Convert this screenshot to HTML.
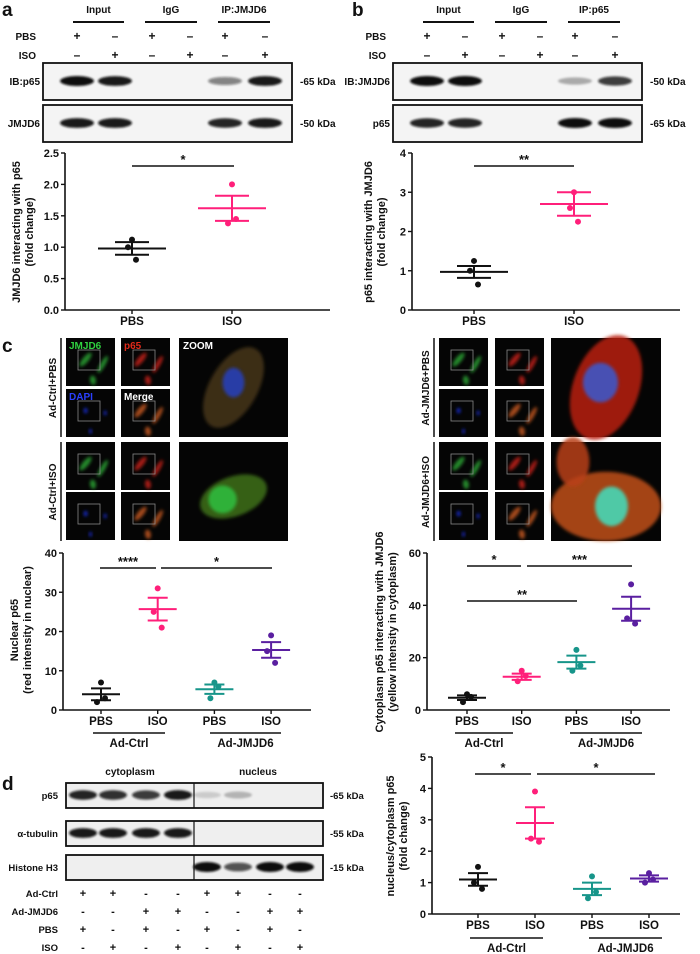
<!DOCTYPE html>
<html><head><meta charset="utf-8">
<style>
html,body{margin:0;padding:0;background:#fff;}
svg{display:block;font-family:"Liberation Sans",Arial,sans-serif;font-weight:bold;}
</style></head>
<body>
<svg id="fig" width="700" height="954" viewBox="0 0 700 954" xmlns="http://www.w3.org/2000/svg">
<defs>
<filter id="bl" x="-50%" y="-50%" width="200%" height="200%"><feGaussianBlur stdDeviation="1.5"/></filter>
<filter id="bl1" x="-50%" y="-50%" width="200%" height="200%"><feGaussianBlur stdDeviation="1"/></filter>
</defs>
<g id="root"></g>
</svg>
<script>
// ---------- chart data ----------
const catsA = ["PBS","ISO"];
const ptsA = [[1.12,1.0,0.8],[2.0,1.38,1.45]];
const meanA = [0.98,1.62];
const semA = [0.1,0.2];
const ticksA = [0,0.5,1.0,1.5,2.0,2.5];

const catsB = ["PBS","ISO"];
const ptsB = [[1.25,1.0,0.65],[3.0,2.6,2.25]];
const meanB = [0.97,2.7];
const semB = [0.15,0.3];
const ticksB = [0,1,2,3,4];

const catsC = ["PBS","ISO","PBS","ISO"];
const ptsC1 = [[7,2,3],[31,25,21],[7,3,6],[19,15,12]];
const meanC1 = [4,25.7,5.3,15.3];
const semC1 = [1.5,2.9,1.2,2.0];
const ticksC1 = [0,10,20,30,40];

const ptsC2 = [[6,3,5],[15,11,13],[23,15,17],[48,35,33]];
const meanC2 = [4.7,12.7,18.3,38.7];
const semC2 = [0.9,1.2,2.5,4.6];
const ticksC2 = [0,20,40,60];

const ptsD = [[1.5,1.0,0.8],[3.9,2.4,2.3],[1.2,0.5,0.7],[1.3,1.0,1.1]];
const meanD = [1.1,2.9,0.8,1.13];
const semD = [0.2,0.5,0.2,0.1];
const ticksD = [0,1,2,3,4,5];

const COLORS2 = ["#111111","#ff1f7a"];
const COLORS4 = ["#111111","#ff1f7a","#17958a","#5a1fa0"];

const NS = "http://www.w3.org/2000/svg";
const root = document.getElementById('root');
function el(tag, attrs, parent, text){
  const e = document.createElementNS(NS, tag);
  for (const k in attrs) e.setAttribute(k, attrs[k]);
  if (text !== undefined) e.textContent = text;
  (parent||root).appendChild(e);
  return e;
}
function txt(x,y,s,size,anchor,parent,fill){
  return el('text',{x:x,y:y,'font-size':size||11,'text-anchor':anchor||'middle',fill:fill||'#111'},parent,s);
}

function dotPlot(cfg){
  const g = el('g',{});
  
  
  const ymin = cfg.ticks[0], ymax = cfg.ticks[cfg.ticks.length-1];
  const yS = v => cfg.y0 - (v - ymin)/(ymax - ymin)*(cfg.y0 - cfg.yTop);
  const xS = i => cfg.xs0 + i*cfg.dx;
  el('line',{x1:cfg.ax,y1:cfg.yTop,x2:cfg.ax,y2:cfg.y0,stroke:'#111','stroke-width':1.6},g);
  el('line',{x1:cfg.ax,y1:cfg.y0,x2:cfg.axEnd,y2:cfg.y0,stroke:'#111','stroke-width':1.6},g);
  cfg.ticks.forEach(t=>{
    const y = yS(t);
    el('line',{x1:cfg.ax-4,y1:y,x2:cfg.ax,y2:y,stroke:'#111','stroke-width':1.4},g);
    const lab = txt(cfg.ax-6,y+4,String(cfg.tickFmt?cfg.tickFmt(t):t),11,'end',g);
    
    
  });
  cfg.cats.forEach((c,i)=>{
    const x = xS(i);
    el('line',{x1:x,y1:cfg.y0,x2:x,y2:cfg.y0+4,stroke:'#111','stroke-width':1.4},g);
    const lab = txt(x,cfg.y0+15,c,11.5,'middle',g);
    
    
    const col = cfg.colors[i];
    const m = cfg.mean[i], s = cfg.sem[i];
    const sg = el('g',{},g);
    
    
    el('line',{x1:x-cfg.mw,y1:yS(m),x2:x+cfg.mw,y2:yS(m),stroke:col,'stroke-width':2},sg);
    el('line',{x1:x-cfg.ew,y1:yS(m+s),x2:x+cfg.ew,y2:yS(m+s),stroke:col,'stroke-width':2},sg);
    el('line',{x1:x-cfg.ew,y1:yS(m-s),x2:x+cfg.ew,y2:yS(m-s),stroke:col,'stroke-width':2},sg);
    el('line',{x1:x,y1:yS(m+s),x2:x,y2:yS(m-s),stroke:col,'stroke-width':2},sg);
    const offs=[0,-5,5];
    cfg.pts[i].forEach((v,k)=>{
      const dot = el('circle',{cx:x+offs[k]*0.8,cy:yS(v),r:3,fill:col},sg);
      
      
    });
  });
  (cfg.sig||[]).forEach(s=>{
    const sgg = el('g',{},g);
    
    
    el('line',{x1:s.x1,y1:s.y,x2:s.x2,y2:s.y,stroke:'#111','stroke-width':1.4},sgg);
    txt((s.x1+s.x2)/2,s.y-2,s.t,13,'middle',sgg);
  });
  (cfg.groups||[]).forEach(gr=>{
    const gg = el('g',{},g);
    
    
    el('line',{x1:gr.x1,y1:gr.y,x2:gr.x2,y2:gr.y,stroke:'#111','stroke-width':1.4},gg);
    txt((gr.x1+gr.x2)/2,gr.y+14,gr.t,11.5,'middle',gg);
  });
  const tg = el('g',{transform:`translate(${cfg.titleX},${cfg.titleY}) rotate(-90)`},g);
  
  
  txt(0,0,cfg.title1,11,'middle',tg);
  txt(0,13,cfg.title2,11,'middle',tg);
}

dotPlot({name:'chart-a',cats:catsA,pts:ptsA,mean:meanA,sem:semA,ticks:ticksA,tickFmt:t=>t.toFixed(1),
  ax:65,axEnd:330,y0:310,yTop:153,xs0:132,dx:100,mw:34,ew:17,colors:COLORS2,
  sig:[{x1:132,x2:234,y:166,t:'*'}],
  title1:'JMJD6 interacting with p65',title2:'(fold change)',titleX:20,titleY:232});
dotPlot({name:'chart-b',cats:catsB,pts:ptsB,mean:meanB,sem:semB,ticks:ticksB,
  ax:412,axEnd:680,y0:310,yTop:153,xs0:474,dx:100,mw:34,ew:17,colors:COLORS2,
  sig:[{x1:474,x2:574,y:166,t:'**'}],
  title1:'p65 interacting with JMJD6',title2:'(fold change)',titleX:372,titleY:232});
dotPlot({name:'chart-c-nuclear',cats:catsC,pts:ptsC1,mean:meanC1,sem:semC1,ticks:ticksC1,
  ax:63,axEnd:311,y0:710,yTop:553,xs0:101,dx:56.7,mw:19,ew:10,colors:COLORS4,
  sig:[{x1:100,x2:156,y:568,t:'****'},{x1:161,x2:272,y:568,t:'*'}],
  groups:[{x1:93,x2:165,y:733,t:'Ad-Ctrl'},{x1:210,x2:281,y:733,t:'Ad-JMJD6'}],
  title1:'Nuclear p65',title2:'(red intensity in nuclear)',titleX:18,titleY:630});
dotPlot({name:'chart-c-cytoplasm',cats:catsC,pts:ptsC2,mean:meanC2,sem:semC2,ticks:ticksC2,
  ax:427,axEnd:670,y0:710,yTop:553,xs0:467,dx:54.7,mw:19,ew:10,colors:COLORS4,
  sig:[{x1:467,x2:521,y:566,t:'*'},{x1:527,x2:632,y:566,t:'***'},{x1:467,x2:577,y:601,t:'**'}],
  groups:[{x1:455,x2:513,y:733,t:'Ad-Ctrl'},{x1:570,x2:642,y:733,t:'Ad-JMJD6'}],
  title1:'Cytoplasm p65 interacting with JMJD6',title2:'(yellow intensity in cytoplasm)',titleX:383,titleY:632});
dotPlot({name:'chart-d',cats:catsC,pts:ptsD,mean:meanD,sem:semD,ticks:ticksD,
  ax:432,axEnd:680,y0:914,yTop:757,xs0:478,dx:57,mw:19,ew:10,colors:COLORS4,
  sig:[{x1:475,x2:531,y:774,t:'*'},{x1:537,x2:655,y:774,t:'*'}],
  groups:[{x1:470,x2:543,y:938,t:'Ad-Ctrl'},{x1:589,x2:662,y:938,t:'Ad-JMJD6'}],
  title1:'nucleus/cytoplasm p65',title2:'(fold change)',titleX:394,titleY:836});

[['a',2,16],['b',352,16],['c',2,352],['d',2,790]].forEach(p=>{
  const t = txt(p[1],p[2],p[0],19,'start');
  
  
});

function coIP(ox, ipLabel, row1, row2, kda1, kda2, bands1, bands2){
  const g = el('g',{});
  
  
  const lanes = [77,115,152,190,225,265].map(v=>v+ox);
  [['Input',73,124],['IgG',145,197],[ipLabel,218,270]].forEach(h=>{
    txt((h[1]+h[2])/2+ox,13,h[0],10,'middle',g);
    el('line',{x1:h[1]+ox,y1:22,x2:h[2]+ox,y2:22,stroke:'#111','stroke-width':2},g);
  });
  txt(ox+36,40,'PBS',10,'end',g); txt(ox+36,59,'ISO',10,'end',g);
  const pbs=['+','–','+','–','+','–'], iso=['–','+','–','+','–','+'];
  lanes.forEach((x,i)=>{txt(x,40,pbs[i],12,'middle',g);txt(x,59,iso[i],12,'middle',g);});
  [[63,row1,kda1,bands1],[105,row2,kda2,bands2]].forEach(r=>{
    el('rect',{x:43+ox,y:r[0],width:249,height:37,fill:'#f4f4f4',stroke:'#111','stroke-width':1.8},g);
    txt(ox+40,r[0]+22,r[1],10,'end',g);
    txt(ox+300,r[0]+22,r[2],10,'start',g);
    r[3].forEach((a,i)=>{ if(a>0) el('ellipse',{cx:lanes[i],cy:r[0]+18,rx:17,ry:3+a*2,fill:'#111','fill-opacity':a,filter:'url(#bl1)'},g);});
  });
}
coIP(0,'IP:JMJD6','IB:p65','JMJD6','-65 kDa','-50 kDa',[1,.95,0,0,.5,.95],[.95,.95,0,0,.9,.95]);
coIP(350,'IP:p65','IB:JMJD6','p65','-50 kDa','-65 kDa',[1,1,0,0,.3,.8],[.9,.9,0,0,1,1]);

function micro(x,y,w,h,blobs,name){
  const g = el('g',{});
  
  
  el('rect',{x:x,y:y,width:w,height:h,fill:'#050505'},g);
  blobs.forEach(b=>el('ellipse',{cx:x+b[0]*w,cy:y+b[1]*h,rx:b[2]*w,ry:b[3]*h,fill:b[4],'fill-opacity':b[6]||0.85,transform:`rotate(${b[5]||0} ${x+b[0]*w} ${y+b[1]*h})`,filter:'url(#bl)'},g));
  return g;
}
const G='#2aa032',R='#c01e14',B='#1b2ee0',O='#c0561e',C='#40e0c0';
const L1=[66,121], L2=179, R1=[439,495], R2=551;
const rowsY=[[338,389],[442,492]];
function cellSet(cols,zx,zw,ys,pal,zoomBlobs,lab){
  const [y1,y2]=ys;
  const cells=c=>[[.4,.45,.06,.18,c,40],[.75,.55,.05,.2,c,30],[.55,.88,.06,.1,c,-10]];
  micro(cols[0],y1,49,48,cells(pal[0]),'micrograph-jmjd6');
  micro(cols[1],y1,49,48,cells(pal[1]),'micrograph-p65');
  micro(cols[0],y2,49,48,[[.4,.45,.04,.06,B],[.8,.5,.03,.05,B],[.5,.88,.03,.05,B]],'micrograph-dapi');
  micro(cols[1],y2,49,48,cells(pal[2]),'micrograph-merge');
  micro(zx,y1,zw,99,zoomBlobs,'micrograph-zoom');
  [[cols[0],y1],[cols[1],y1],[cols[0],y2],[cols[1],y2]].forEach(p=>el('rect',{x:p[0]+12,y:p[1]+12,width:22,height:20,fill:'none',stroke:'#888','stroke-width':0.8}));
  const tg = el('g',{transform:`translate(${cols[0]-10},${y1+50}) rotate(-90)`});
  
  
  txt(0,0,lab,10,'middle',tg);
  el('line',{x1:cols[0]-5,y1:y1,x2:cols[0]-5,y2:y1+99,stroke:'#111','stroke-width':1.5});
}
cellSet(L1,L2,109,rowsY[0],[G,R,O],[[.5,.5,.22,.45,'#4a3a18',30,0.8],[.5,.45,.1,.15,'#2440c0']],'Ad-Ctrl+PBS');
cellSet(L1,L2,109,rowsY[1],[G,R,O],[[.5,.55,.32,.2,'#3a6a18',-20,0.9],[.4,.58,.13,.14,'#30c040']],'Ad-Ctrl+ISO');
cellSet(R1,R2,110,rowsY[0],[G,R,O],[[.5,.5,.3,.55,'#b82010',20],[.45,.45,.16,.2,'#3a5ad0']],'Ad-JMJD6+PBS');
cellSet(R1,R2,110,rowsY[1],[G,R,O],[[.5,.65,.5,.35,'#c0501a'],[.2,.2,.15,.25,'#b84018'],[.55,.65,.15,.2,C]],'Ad-JMJD6+ISO');
const lbls=[[L1[0]+3,349,'JMJD6','#30d040'],[L1[1]+3,349,'p65','#e02a1a'],[L1[0]+3,400,'DAPI','#2a40ff'],[L1[1]+3,400,'Merge','#fff'],[L2+4,349,'ZOOM','#fff']];
lbls.forEach(l=>{const t=txt(l[0],l[1],l[2],10,'start',null,l[3]);});

(function(){
  const g = el('g',{});
  
  
  txt(130,775,'cytoplasm',10,'middle',g); txt(258,775,'nucleus',10,'middle',g);
  const lanes=[83,113,146,178,207,238,270,300];
  const rows=[[783,'p65','-65 kDa',[.9,.85,.8,.95,.15,.25,0,0]],[821,'α-tubulin','-55 kDa',[.95,.95,.95,.95,0,0,0,0]],[855,'Histone H3','-15 kDa',[0,0,0,0,1,.7,1,1]]];
  rows.forEach(r=>{
    el('rect',{x:66,y:r[0],width:257,height:25,fill:'#efefef',stroke:'#111','stroke-width':1.8},g);
    el('line',{x1:194,y1:r[0],x2:194,y2:r[0]+25,stroke:'#111','stroke-width':1.2},g);
    txt(58,r[0]+16,r[1],9.5,'end',g);
    txt(330,r[0]+16,r[2],9.5,'start',g);
    r[3].forEach((a,i)=>{ if(a>0) el('ellipse',{cx:lanes[i],cy:r[0]+12,rx:14,ry:3+a*2,fill:'#111','fill-opacity':a,filter:'url(#bl1)'},g);});
  });
  const tbl=[['Ad-Ctrl',893,'++--++--'],['Ad-JMJD6',911,'--++--++'],['PBS',929,'+-+-+-+-'],['ISO',947,'-+-+-+-+']];
  tbl.forEach(t=>{
    txt(58,t[1]+4,t[0],9.5,'end',g);
    lanes.forEach((x,i)=>txt(x,t[1]+4,t[2][i],11,'middle',g));
  });
})();
</script>
</body></html>
